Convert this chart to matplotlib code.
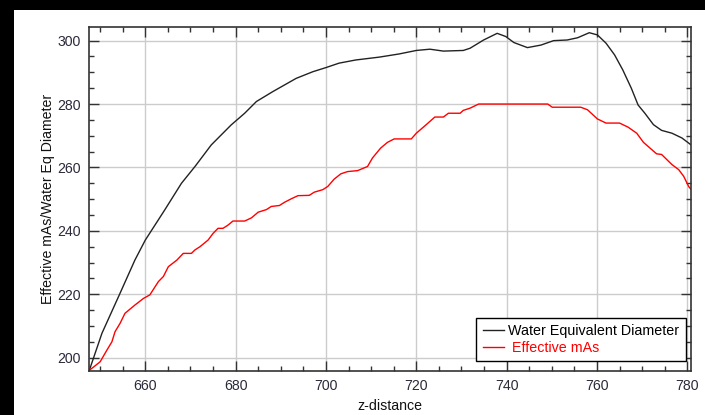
import matplotlib
matplotlib.use("Agg")
import matplotlib.pyplot as plt
from matplotlib.patches import Rectangle
from matplotlib.ticker import MultipleLocator

plt.rcParams['font.family'] = ['Liberation Sans', 'DejaVu Sans']

# ---- data ----
wed_z = [647.6, 650.4, 654.4, 657.7, 660.0, 664.3, 668.0, 671.0, 674.6, 679.0,
         682.0, 684.6, 688.2, 693.4, 697.1, 700.0, 702.9, 706.6, 711.8, 716.2,
         720.0, 723.0, 726.0, 730.4, 731.9, 734.9, 737.9, 739.8, 741.6, 744.6,
         747.6, 750.4, 753.4, 755.7, 758.3, 760.1, 762.0, 763.9, 765.7, 767.6,
         769.1, 770.6, 772.5, 774.3, 776.6, 778.8, 780.75]
wed = [196.0, 207.7, 220.3, 230.8, 237.1, 246.6, 255.0, 260.3, 267.1, 273.4,
       277.1, 280.8, 283.9, 288.1, 290.2, 291.5, 292.9, 293.9, 294.8, 295.8,
       296.9, 297.3, 296.7, 296.9, 297.6, 300.2, 302.3, 301.3, 299.4, 297.8,
       298.6, 300.0, 300.2, 300.9, 302.5, 301.8, 299.2, 295.5, 290.8, 285.0,
       279.7, 277.1, 273.5, 271.7, 270.8, 269.3, 267.2]

ema_z = [647.6, 650.0, 651.5, 652.6, 653.3, 654.4, 655.5, 657.7, 659.6, 661.0,
         662.9, 664.0, 665.1, 667.0, 668.4, 670.2, 671.0, 672.1, 673.9, 675.0,
         676.1, 677.2, 678.3, 679.4, 682.0, 683.5, 685.0, 686.8, 687.9, 689.7,
         690.8, 692.3, 693.8, 696.3, 697.4, 699.3, 700.4, 701.8, 703.3, 704.8,
         707.0, 709.2, 710.3, 712.1, 713.6, 715.1, 718.9, 720.0, 722.2, 724.1,
         726.0, 727.1, 729.7, 730.4, 731.9, 733.8, 749.1, 750.1, 756.4, 757.9,
         760.1, 762.0, 765.0, 766.9, 768.8, 770.3, 773.2, 774.3, 776.6, 778.1,
         779.2, 780.3, 780.75]
ema = [196.0, 198.7, 202.4, 205.0, 208.2, 210.8, 214.0, 216.6, 218.7, 219.8,
       224.0, 225.6, 228.7, 230.8, 232.9, 232.9, 234.0, 235.0, 237.1, 239.2,
       240.8, 240.8, 241.8, 243.1, 243.1, 244.1, 245.9, 246.7, 247.7, 248.0,
       249.0, 250.1, 251.1, 251.2, 252.2, 253.0, 254.0, 256.3, 258.0, 258.7,
       259.0, 260.3, 263.0, 266.1, 267.9, 269.0, 269.0, 270.8, 273.5, 275.9,
       275.9, 277.1, 277.1, 278.0, 278.7, 280.0, 280.0, 279.0, 279.0, 278.2,
       275.3, 274.0, 274.0, 272.7, 270.8, 267.9, 264.3, 264.1, 260.9, 259.3,
       257.2, 254.0, 253.2]

x_ticks = [660, 680, 700, 720, 740, 760, 780]
y_ticks = [200, 220, 240, 260, 280, 300]
x_label = "z-distance"
y_label = "Effective mAs/Water Eq Diameter"
labels = ["Water Equivalent Diameter", " Effective mAs"]

# ---- figure ----
W, H = 705, 415
fig = plt.figure(figsize=(W / 100, H / 100), dpi=100)
fig.patch.set_facecolor('black')
bg = Rectangle((14 / W, 0), 1 - 14 / W, (H - 10) / H,
               transform=fig.transFigure, facecolor='white',
               edgecolor='none', zorder=-10)
fig.add_artist(bg)

l, r, b, t = 89.3, 690.7, 371, 27
ax = fig.add_axes([l / W, (H - b) / H, (r - l) / W, (b - t) / H])
ax.set_zorder(1)
ax.set_facecolor('white')

ax.plot(wed_z, wed, color='#222222', lw=1.0, label=labels[0])
ax.plot(ema_z, ema, color='#ff0000', lw=1.0, label=labels[1])

ax.set_xlim(647.6, 780.75)
ax.set_ylim(195.8, 304.3)
ax.set_xticks(x_ticks)
ax.set_yticks(y_ticks)
ax.xaxis.set_minor_locator(MultipleLocator(5))
ax.yaxis.set_minor_locator(MultipleLocator(5))
ax.grid(True, which='major', color='#cccccc', lw=1.0)
ax.set_axisbelow(True)

tick_col = '#2a2a3a'
ax.tick_params(which='both', direction='in', top=True, right=True,
               color='#333333', labelsize=10.2, labelcolor=tick_col)
ax.tick_params(which='major', length=7, width=1.0, pad=6)
ax.tick_params(which='minor', length=3.5, width=1.0)
for s in ax.spines.values():
    s.set_color('#333333')
    s.set_linewidth(1.2)

ax.set_xlabel(x_label, fontsize=10.2, color='#111111', labelpad=4)
ax.set_ylabel(y_label, fontsize=10.2, color='#111111', labelpad=2)

leg = ax.legend(loc='lower right', bbox_to_anchor=((686 - l) / (r - l), (b - 361) / (b - t)),
                borderaxespad=0, fancybox=False, framealpha=1, edgecolor='black',
                fontsize=10.3, handlelength=1.5, handletextpad=0.3,
                borderpad=0.45, labelspacing=0.15)
leg.get_frame().set_linewidth(1.0)
leg.get_texts()[1].set_color('#ff0000')

fig.savefig('out.png', dpi=100, facecolor=fig.get_facecolor())
